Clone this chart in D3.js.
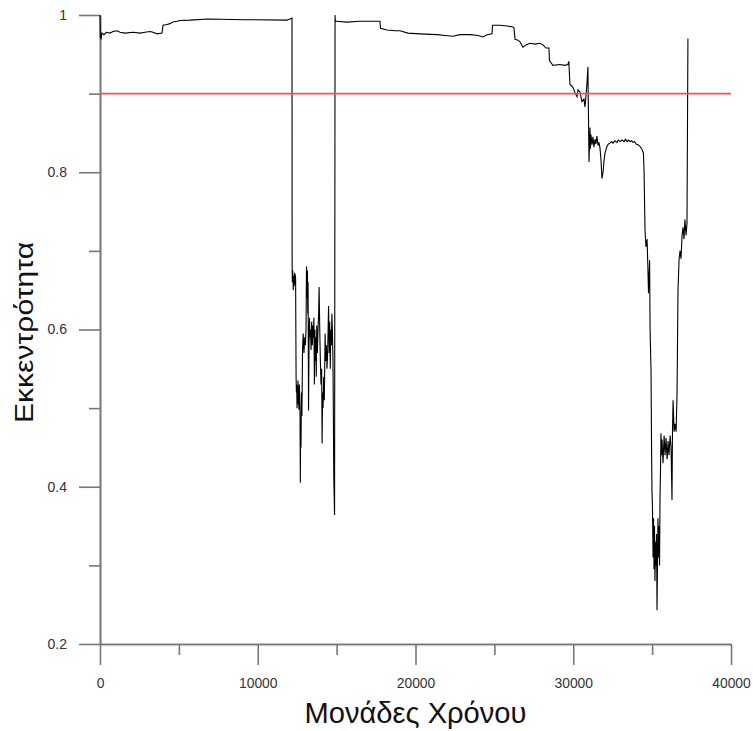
<!DOCTYPE html>
<html>
<head>
<meta charset="utf-8">
<script src="https://cdn.jsdelivr.net/npm/d3@7"></script>
<style>
    body { margin: 0; background: #fff; }
    svg { display: block; }
</style>
</head>
<body>
<svg id="chart"></svg>
<script>
// time units (x) and eccentricity (y)
const timeUnits = [
    0, 20, 60, 120, 250, 400, 634, 824, 1078, 1268, 1585, 2092, 2536, 2853, 3170, 3360, 3613, 3930,
    3994, 4247, 4437, 4628, 4881, 5071, 5705, 6846, 9192, 11854, 12044, 12171,
    12180, 12190, 12220, 12250, 12280, 12310, 12340, 12360, 12380, 12400, 12430, 12450, 12470,
    12490, 12510, 12530, 12550, 12580, 12610, 12640, 12660, 12680, 12700, 12720, 12740, 12770,
    12800, 12840, 12880, 12930, 12980, 13020, 13060, 13090, 13120, 13150, 13170, 13190, 13220,
    13250, 13280, 13310, 13340, 13380, 13420, 13460, 13500, 13530, 13560, 13590, 13620, 13650,
    13680, 13710, 13740, 13780, 13820, 13860, 13890, 13930, 13970, 14010, 14050, 14080, 14110,
    14140, 14180, 14220, 14270, 14310, 14350, 14390, 14430, 14460, 14490, 14530, 14560, 14600,
    14630, 14670, 14700, 14730, 14770, 14820, 14870, 14900, 14920,
    14960, 15660, 16480, 17750, 17780, 18190, 18700, 19020, 19520, 20280, 21360, 21870, 22380,
    22820, 23450, 23960, 24280, 24530, 24850, 24880, 25360, 25800, 26120, 26240, 26310, 26500,
    26620, 26810, 27000, 27260, 27580, 27890, 28080, 28270, 28460, 28490, 28710, 29160, 29470,
    29660, 29720, 29790, 29980, 30110, 30240, 30300, 30430, 30550, 30680, 30740, 30800, 30870,
    30930, 30960, 31000, 31060, 31090, 31120, 31190, 31250, 31310, 31380, 31440, 31500, 31570,
    31630, 31700, 31760, 31820, 31890, 31950, 32010, 32140, 32230, 32330, 32420, 32520, 32640,
    32770, 32860, 32960, 33090, 33220, 33310, 33410, 33500, 33600, 33700, 33790, 33890, 33980,
    34100, 34230, 34360, 34450, 34490, 34550, 34610, 34680, 34740, 34770,
    34810, 34840, 34870, 34900, 34930, 34960, 34990, 35020, 35060, 35090, 35120, 35150, 35180,
    35220, 35250, 35280, 35310, 35340, 35370, 35410, 35440, 35470, 35500, 35530, 35560, 35600,
    35630, 35690, 35760, 35820, 35880, 35950, 36010, 36070, 36140, 36200, 36260, 36290, 36330,
    36390, 36450, 36520, 36580, 36640, 36710, 36770, 36830, 36900, 36960, 37020, 37080, 37150,
    37210, 37270
];
const eccentricity = [
    1.0, 0.972, 0.970, 0.977, 0.975, 0.978, 0.977, 0.979, 0.980, 0.978, 0.977, 0.978, 0.977, 0.978, 0.979, 0.978, 0.976, 0.977,
    0.987, 0.988, 0.989, 0.991, 0.992, 0.993, 0.9935, 0.995, 0.994, 0.9935, 0.995, 0.996,
    0.684, 0.660, 0.675, 0.650, 0.668, 0.655, 0.672, 0.658, 0.670, 0.664, 0.540, 0.520, 0.530,
    0.500, 0.528, 0.505, 0.535, 0.515, 0.498, 0.530, 0.510, 0.494, 0.405, 0.480, 0.450, 0.520,
    0.490, 0.575, 0.595, 0.570, 0.590, 0.580, 0.600, 0.680, 0.640, 0.675, 0.620, 0.660, 0.497,
    0.580, 0.615, 0.590, 0.600, 0.574, 0.610, 0.580, 0.605, 0.590, 0.615, 0.530, 0.600, 0.560,
    0.590, 0.540, 0.605, 0.570, 0.600, 0.620, 0.654, 0.600, 0.560, 0.530, 0.550, 0.455, 0.520,
    0.500, 0.540, 0.510, 0.595, 0.560, 0.580, 0.550, 0.570, 0.600, 0.630, 0.570, 0.610, 0.550,
    0.600, 0.580, 0.620, 0.600, 0.560, 0.412, 0.364, 1.0, 0.992,
    0.992, 0.991, 0.992, 0.992, 0.983, 0.981, 0.980, 0.980, 0.977, 0.976, 0.975, 0.974, 0.973,
    0.975, 0.975, 0.974, 0.972, 0.975, 0.976, 0.987, 0.987, 0.986, 0.985, 0.984, 0.969, 0.968,
    0.966, 0.959, 0.962, 0.964, 0.963, 0.964, 0.962, 0.958, 0.958, 0.942, 0.936, 0.937, 0.936,
    0.937, 0.941, 0.912, 0.908, 0.901, 0.896, 0.905, 0.902, 0.890, 0.893, 0.883, 0.895, 0.913,
    0.934, 0.880, 0.813, 0.857, 0.830, 0.848, 0.835, 0.845, 0.832, 0.842, 0.836, 0.846, 0.834,
    0.838, 0.830, 0.815, 0.792, 0.800, 0.815, 0.824, 0.833, 0.836, 0.837, 0.839, 0.837, 0.840,
    0.838, 0.841, 0.839, 0.841, 0.839, 0.842, 0.839, 0.841, 0.839, 0.840, 0.838, 0.839, 0.836,
    0.835, 0.833, 0.829, 0.824, 0.800, 0.726, 0.705, 0.715, 0.672, 0.646,
    0.670, 0.688, 0.600, 0.574, 0.548, 0.460, 0.396, 0.374, 0.310, 0.360, 0.295, 0.350, 0.280,
    0.330, 0.300, 0.340, 0.243, 0.300, 0.360, 0.310, 0.350, 0.300, 0.385, 0.420, 0.468, 0.440,
    0.460, 0.430, 0.465, 0.440, 0.462, 0.435, 0.458, 0.440, 0.465, 0.450, 0.383, 0.470, 0.510,
    0.470, 0.480, 0.470, 0.520, 0.650, 0.690, 0.700, 0.690, 0.720, 0.730, 0.715, 0.740, 0.720,
    0.735, 0.970
];
const threshold = 0.9;

const xMajorTicks = [0, 10000, 20000, 30000, 40000];
const xMinorTicks = [5000, 15000, 25000, 35000];
const yMajorTicks = [0.2, 0.4, 0.6, 0.8, 1];
const yMinorTicks = [0.3, 0.5, 0.7, 0.9];

const xTitle = 'Μονάδες Χρόνου';
const yTitle = 'Εκκεντρότητα';

const width = 753,
    height = 731;
const margin = {top: 15, right: 22, bottom: 87, left: 100};

const svg = d3.select('#chart')
    .attr('width', width)
    .attr('height', height);

const x = d3.scaleLinear()
    .domain([0, 40000])
    .range([margin.left, width - margin.right]);

const y = d3.scaleLinear()
    .domain([0.2, 1])
    .range([height - margin.bottom, margin.top]);

const axisColour = '#777';

function styleAxis(g) {
    g.selectAll('.domain').attr('stroke', axisColour).attr('stroke-width', 1.6);
    g.selectAll('.tick line').attr('stroke', axisColour).attr('stroke-width', 1.6);
    g.selectAll('.tick text').attr('fill', '#333');
}

// minor ticks first, no labels
svg.append('g')
    .attr('transform', `translate(0,${y(0.2)})`)
    .call(d3.axisBottom(x).tickValues(xMinorTicks).tickSize(11).tickSizeOuter(0).tickFormat(''))
    .call(styleAxis);

svg.append('g')
    .attr('transform', `translate(${x(0)},0)`)
    .call(d3.axisLeft(y).tickValues(yMinorTicks).tickSize(11).tickSizeOuter(0).tickFormat(''))
    .call(styleAxis);

// major ticks with labels (x labels squeezed, the original uses a narrow face)
svg.append('g')
    .attr('transform', `translate(0,${y(0.2)})`)
    .call(d3.axisBottom(x).tickValues(xMajorTicks).tickSize(21).tickSizeOuter(0).tickPadding(12).tickFormat(d3.format('d')))
    .call(styleAxis)
    .call(g => g.selectAll('.tick text')
        .attr('font-family', '"Liberation Sans", Arial, sans-serif')
        .attr('font-size', 15)
        .attr('textLength', d => String(d).length * 7.7)
        .attr('lengthAdjust', 'spacingAndGlyphs'));

svg.append('g')
    .attr('transform', `translate(${x(0)},0)`)
    .call(d3.axisLeft(y).tickValues(yMajorTicks).tickSize(21).tickSizeOuter(0).tickPadding(12).tickFormat(d3.format('~g')))
    .call(styleAxis)
    .call(g => g.selectAll('.tick text')
        .attr('font-family', '"Liberation Sans", Arial, sans-serif')
        .attr('font-size', 14));

// the series
const points = timeUnits.map((t, i) => [t, eccentricity[i]]);

const line = d3.line()
    .x(d => x(d[0]))
    .y(d => y(d[1]));

svg.append('path')
    .datum(points)
    .attr('fill', 'none')
    .attr('stroke', '#000')
    .attr('stroke-width', 1.1)
    .attr('d', line);

// threshold line
svg.append('line')
    .attr('x1', x(0))
    .attr('x2', x(40000))
    .attr('y1', y(threshold))
    .attr('y2', y(threshold))
    .attr('stroke', '#ff4d4d')
    .attr('stroke-width', 1.6);

// titles
svg.append('text')
    .attr('x', (x(0) + x(40000)) / 2)
    .attr('y', 723)
    .attr('text-anchor', 'middle')
    .attr('font-family', '"Liberation Sans", Arial, sans-serif')
    .attr('font-size', 30)
    .attr('textLength', 222)
    .attr('lengthAdjust', 'spacingAndGlyphs')
    .attr('fill', '#111')
    .text(xTitle);

svg.append('text')
    .attr('transform', `translate(33,${(y(0.2) + y(1)) / 2 + 3}) rotate(-90)`)
    .attr('text-anchor', 'middle')
    .attr('font-family', '"Liberation Sans", Arial, sans-serif')
    .attr('font-size', 26)
    .attr('textLength', 181)
    .attr('lengthAdjust', 'spacingAndGlyphs')
    .attr('fill', '#111')
    .text(yTitle);
</script>
</body>
</html>
